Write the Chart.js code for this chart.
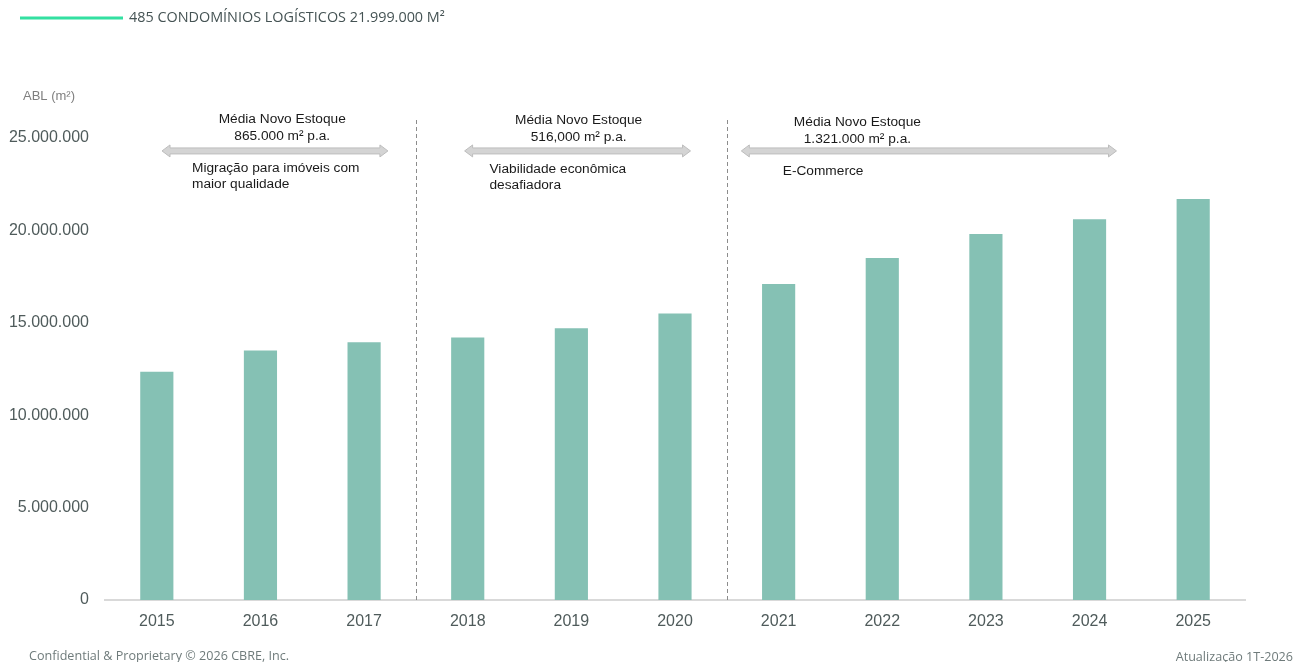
<!DOCTYPE html>
<html>
<head>
<meta charset="utf-8">
<script src="https://cdn.jsdelivr.net/npm/chart.js@4"></script>
<style>
  html, body { margin: 0; padding: 0; background: #fff; }
  #wrap { width: 1295px; height: 662px; }
</style>
</head>
<body>
<div id="wrap"><canvas id="chartAbl" width="1295" height="662"></canvas></div>
<script>
// dados
const anos = ['2015', '2016', '2017', '2018', '2019', '2020', '2021', '2022', '2023', '2024', '2025'];
const estoqueAbl = [12350000, 13500000, 13950000, 14200000, 14700000, 15500000, 17100000, 18500000, 19800000, 20600000, 21700000];
const ticksY = [0, 5000000, 10000000, 15000000, 20000000, 25000000];

const periodoTitulo = ['Média Novo Estoque', 'Média Novo Estoque', 'Média Novo Estoque'];
const periodoMedia = ['865.000 m² p.a.', '516,000 m² p.a.', '1.321.000 m² p.a.'];
const periodoMotivo = [
    ['Migração para imóveis com', 'maior qualidade'],
    ['Viabilidade econômica', 'desafiadora'],
    ['E-Commerce']
];
const legendaTopo = '485 CONDOMÍNIOS LOGÍSTICOS 21.999.000 M²';
const rodapeEsq = 'Confidential & Proprietary © 2026 CBRE, Inc.';
const rodapeDir = 'Atualização 1T-2026';

const verdeBarra = '#85c1b4';
const cinzaTexto = '#4f5b5b';

function fmtBR(v) {
    return v.toString().replace(/\B(?=(\d{3})+(?!\d))/g, '.');
}

function setaDupla(ctx, x1, x2, y) {
    const h = 3, head = 6, len = 8;
    ctx.beginPath();
    ctx.moveTo(x1, y);
    ctx.lineTo(x1 + len, y - head);
    ctx.lineTo(x1 + len, y - h);
    ctx.lineTo(x2 - len, y - h);
    ctx.lineTo(x2 - len, y - head);
    ctx.lineTo(x2, y);
    ctx.lineTo(x2 - len, y + head);
    ctx.lineTo(x2 - len, y + h);
    ctx.lineTo(x1 + len, y + h);
    ctx.lineTo(x1 + len, y + head);
    ctx.closePath();
    ctx.fillStyle = '#d4d4d4';
    ctx.fill();
    ctx.strokeStyle = '#bdbdbd';
    ctx.lineWidth = 1;
    ctx.stroke();
}

// anotações, linhas tracejadas e textos extras
const anotacoes = {
    id: 'anotacoes',
    afterDraw(chart) {
        const ctx = chart.ctx;
        const xs = chart.scales.x;
        const ys = chart.scales.y;
        const area = chart.chartArea;
        ctx.save();

        // divisões entre períodos
        ctx.strokeStyle = '#8c8c8c';
        ctx.lineWidth = 1;
        ctx.setLineDash([4, 3]);
        [2.5, 5.5].forEach(i => {
            const x = Math.round(xs.getPixelForValue(i)) + 0.5;
            ctx.beginPath();
            ctx.moveTo(x, area.top - 18);
            ctx.lineTo(x, area.bottom);
            ctx.stroke();
        });
        ctx.setLineDash([]);

        // setas
        const ySeta = ys.getPixelForValue(24300000);
        const spans = [[0.05, 2.23], [2.97, 5.15], [5.64, 9.26]];
        spans.forEach(s => setaDupla(ctx, xs.getPixelForValue(s[0]), xs.getPixelForValue(s[1]), ySeta));

        // textos dos períodos
        ctx.fillStyle = '#1a1a1a';
        ctx.font = '13.7px "Liberation Sans", Arial, sans-serif';
        ctx.textBaseline = 'middle';
        const centros = [1.21, 4.07, 6.76];
        const motivoX = [0.34, 3.21, 6.04];
        for (let p = 0; p < 3; p++) {
            const cx = xs.getPixelForValue(centros[p]);
            ctx.textAlign = 'center';
            ctx.fillText(periodoTitulo[p], cx, ySeta - 32 + (p === 2 ? 3 : p));
            ctx.fillText(periodoMedia[p], cx, ySeta - 15 + (p === 2 ? 3 : p));
            ctx.textAlign = 'left';
            periodoMotivo[p].forEach((linha, k) => {
                ctx.fillText(linha, xs.getPixelForValue(motivoX[p]), ySeta + 17 + k * 16 + (p === 2 ? 3 : p));
            });
        }

        // título do eixo
        ctx.fillStyle = '#7f7f7f';
        ctx.font = '13px "Liberation Sans", Arial, sans-serif';
        ctx.textAlign = 'left';
        ctx.fillText('ABL (m²)', 23, 96);

        // legenda do topo
        ctx.strokeStyle = '#33e0a1';
        ctx.lineWidth = 3;
        ctx.beginPath();
        ctx.moveTo(20, 18);
        ctx.lineTo(123, 18);
        ctx.stroke();
        ctx.fillStyle = '#455354';
        ctx.font = '14.4px "Open Sans", sans-serif';
        ctx.fillText(legendaTopo, 129, 18);

        // rodapé
        ctx.fillStyle = '#6f7b7b';
        ctx.font = '12.6px "Open Sans", sans-serif';
        ctx.fillText(rodapeEsq, 29, 656);
        ctx.textAlign = 'right';
        ctx.fillText(rodapeDir, 1293, 657);
        ctx.restore();
    }
};

new Chart(document.getElementById('chartAbl'), {
    type: 'bar',
    data: {
        labels: anos,
        datasets: [{
            data: estoqueAbl,
            backgroundColor: verdeBarra,
            barPercentage: 0.32,
            categoryPercentage: 1
        }]
    },
    options: {
        responsive: false,
        animation: false,
        layout: { padding: { top: 138, right: 50, left: 0, bottom: 0 } },
        plugins: { legend: { display: false }, tooltip: { enabled: false } },
        scales: {
            x: {
                grid: { display: false, drawTicks: false },
                border: { display: true, color: '#d9d9d9', width: 2 },
                ticks: {
                    color: cinzaTexto,
                    padding: 12,
                    font: { family: '"Liberation Sans", Arial, sans-serif', size: 16 }
                },
                afterFit(scale) { scale.height = 62; }
            },
            y: {
                min: 0,
                max: 25000000,
                afterBuildTicks(scale) { scale.ticks = ticksY.map(v => ({ value: v })); },
                grid: { display: false, drawTicks: false },
                border: { display: false },
                ticks: {
                    color: cinzaTexto,
                    padding: 16,
                    font: { family: '"Liberation Sans", Arial, sans-serif', size: 16 },
                    callback: v => fmtBR(v)
                },
                afterFit(scale) { scale.width = 105; }
            }
        }
    },
    plugins: [anotacoes]
});
</script>
</body>
</html>
